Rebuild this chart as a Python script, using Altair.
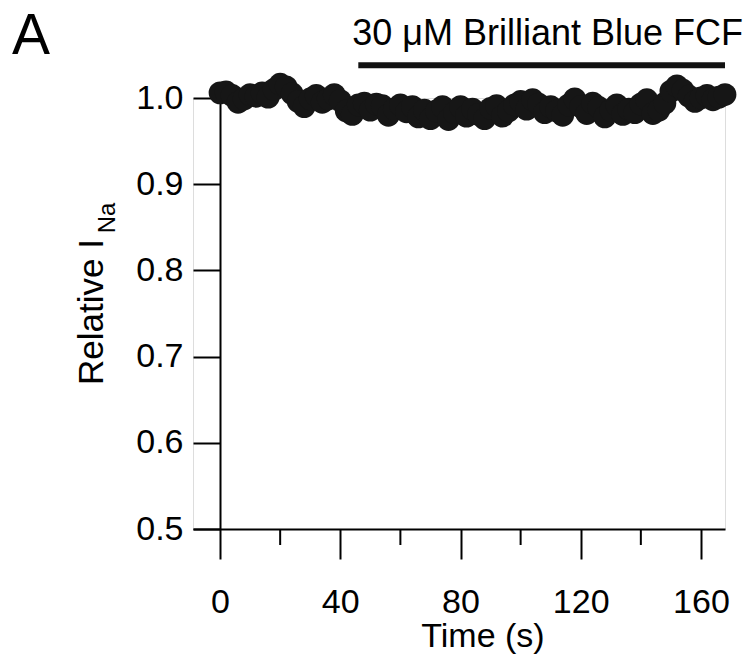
import altair as alt
import pandas as pd

# ---- data ----
time_s = list(range(0, 169, 2))
rel_ina = [1.006, 1.007, 1.003, 0.995, 0.999, 1.004, 1.002, 1.006, 1.001, 1.010,
           1.016, 1.013, 1.005, 0.996, 0.990, 0.999, 1.003, 0.995, 0.999, 1.004,
           0.997, 0.985, 0.981, 0.992, 0.994, 0.986, 0.993, 0.991, 0.980, 0.987,
           0.992, 0.984, 0.990, 0.978, 0.986, 0.976, 0.985, 0.990, 0.975, 0.983,
           0.990, 0.979, 0.987, 0.981, 0.976, 0.988, 0.991, 0.979, 0.985, 0.992,
           0.996, 0.987, 0.998, 0.993, 0.983, 0.990, 0.985, 0.980, 0.992, 0.999,
           0.990, 0.982, 0.994, 0.989, 0.978, 0.986, 0.992, 0.981, 0.987, 0.983,
           0.993, 0.998, 0.982, 0.986, 0.994, 1.008, 1.014, 1.009, 1.002, 0.996,
           1.000, 1.003, 0.998, 1.001, 1.004]

x_major = [0, 40, 80, 120, 160]
x_minor = [20, 60, 100, 140]
y_ticks = [0.5, 0.6, 0.7, 0.8, 0.9, 1.0]

drug_label = ["30 \u03bcM Brilliant Blue FCF"]
drug_start = [46]
drug_end = [168]
drug_bar_y = [1.038]
drug_label_x = [109]
drug_label_y = [1.061]

FONT = "Liberation Sans"
W, H = 532, 431

df = pd.DataFrame({"t": time_s, "v": rel_ina})
bar_df = pd.DataFrame({"x": drug_start, "x2": drug_end, "y": drug_bar_y,
                       "lx": drug_label_x, "ly": drug_label_y, "label": drug_label})
minor_df = pd.DataFrame({"t": x_minor})

xscale = alt.Scale(domain=[-9, 168], nice=False, zero=False)
yscale = alt.Scale(domain=[0.5, 1.0], nice=False, zero=False)

xaxis = alt.Axis(values=x_major, title=None, grid=False, tickSize=30, tickWidth=2,
                 domainWidth=2, domainColor="black", tickColor="black",
                 labelFontSize=34, labelFont=FONT, labelColor="black", labelPadding=26,
                 labelFlush=False)
yaxis = alt.Axis(values=y_ticks, format=".1f", title=None, grid=False, tickSize=27,
                 tickWidth=2, domainWidth=2, domainColor="black", tickColor="black",
                 labelFontSize=34, labelFont=FONT, labelColor="black", labelPadding=10,
                 offset=-27)

points = alt.Chart(df).mark_circle(size=520, color="#161616", opacity=1).encode(
    x=alt.X("t:Q", scale=xscale, axis=xaxis),
    y=alt.Y("v:Q", scale=yscale, axis=yaxis),
)

minor = alt.Chart(minor_df).mark_rule(color="black", strokeWidth=2).encode(
    x=alt.X("t:Q", scale=xscale),
    y=alt.value(H),
    y2=alt.value(H + 16),
)

bar = alt.Chart(bar_df).mark_rule(color="#111", strokeWidth=6).encode(
    x=alt.X("x:Q", scale=xscale),
    x2="x2:Q",
    y=alt.Y("y:Q", scale=yscale),
)

bar_text = alt.Chart(bar_df).mark_text(fontSize=36, font=FONT, color="black",
                                       align="center", baseline="alphabetic").encode(
    x=alt.X("lx:Q", scale=xscale),
    y=alt.Y("ly:Q", scale=yscale),
    text="label:N",
)

ytitle = alt.Chart(pd.DataFrame({"s": ["Relative I"]})).mark_text(
    fontSize=35, font=FONT, color="black", angle=270, align="center",
    baseline="alphabetic").encode(x=alt.value(-90), y=alt.value(214), text="s:N")

ysub = alt.Chart(pd.DataFrame({"s": ["Na"]})).mark_text(
    fontSize=24, font=FONT, color="black", angle=270, align="center",
    baseline="alphabetic").encode(x=alt.value(-78), y=alt.value(120), text="s:N")

xtitle = alt.Chart(pd.DataFrame({"s": ["Time (s)"]})).mark_text(
    fontSize=34, font=FONT, color="black", align="center",
    baseline="alphabetic").encode(x=alt.value(290), y=alt.value(549), text="s:N")

panel = alt.Chart(pd.DataFrame({"s": ["A"]})).mark_text(
    fontSize=57, font=FONT, color="black", align="left",
    baseline="alphabetic").encode(x=alt.value(-181), y=alt.value(-44), text="s:N")

chart = alt.layer(points, minor, bar, bar_text, ytitle, ysub, xtitle, panel).properties(
    width=W, height=H,
    autosize=alt.AutoSizeParams(type="none"),
    padding={"left": 193, "top": 98, "right": 28, "bottom": 130},
).configure_view(stroke=None).configure(background="white")

chart.save("out.html", embed_options={"renderer": "svg", "actions": False})
